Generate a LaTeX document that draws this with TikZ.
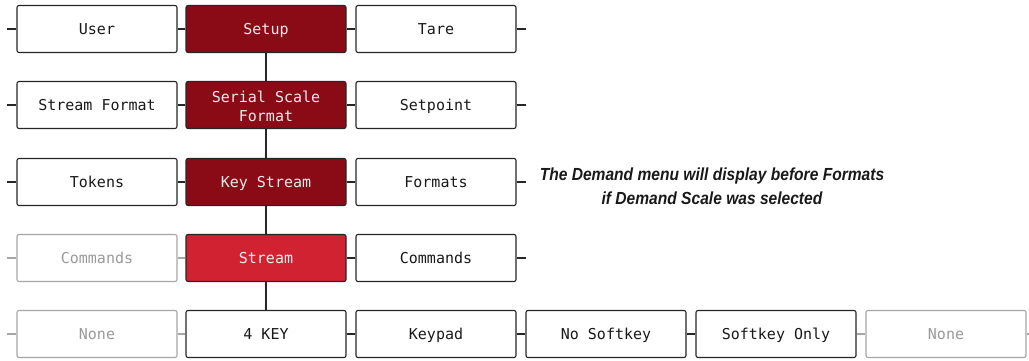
\documentclass[tikz,border=0pt]{standalone}
\usepackage{fontspec}
\setmainfont{Liberation Sans}
\setmonofont{DejaVu Sans Mono}
\definecolor{darkred}{HTML}{8A0A16}
\definecolor{brightred}{HTML}{D12232}
\definecolor{grayline}{HTML}{A6A6A6}
\definecolor{graytext}{HTML}{9A9A9A}
\begin{document}
\begin{tikzpicture}[x=1pt,y=-1pt,
  menubox/.style={draw=black!85,line width=1.1pt,rounded corners=2pt,minimum width=160pt,minimum height=47pt,inner sep=0pt,fill=white,font=\ttfamily\fontsize{15}{19}\selectfont,align=center,text=black!90,text height=12.5pt,text depth=1.5pt},
  sel/.style={menubox,fill=darkred,text=white!92!black},
  cur/.style={menubox,fill=brightred,text=white!95!black},
  dim/.style={menubox,draw=grayline,text=graytext},
  link/.style={draw=black!85,line width=1.1pt},
  dimlink/.style={draw=grayline,line width=1.1pt}]
\useasboundingbox (0,0) rectangle (1029,360);
% row 1
\node[menubox] (user) at (97,29) {User};
\node[sel] (setup) at (266,29) {Setup};
\node[menubox] (tare) at (436,29) {Tare};
% row 2
\node[menubox] (sfmt) at (97,105) {Stream Format};
\node[sel,text height=25pt,text depth=12pt] (ssf) at (266,105) {\begin{tabular}{@{}c@{}}Serial Scale\\Format\end{tabular}};
\node[menubox] (setp) at (436,105) {Setpoint};
% row 3
\node[menubox] (tok) at (97,182) {Tokens};
\node[sel] (ks) at (266,182) {Key Stream};
\node[menubox] (fmts) at (436,182) {Formats};
% row 4
\node[dim] (cmd1) at (97,258) {Commands};
\node[cur] (str) at (266,258) {Stream};
\node[menubox] (cmd2) at (436,258) {Commands};
% row 5
\node[dim] (none1) at (97,334) {None};
\node[menubox] (key4) at (266,334) {4 KEY};
\node[menubox] (kpad) at (436,334) {Keypad};
\node[menubox] (nosk) at (606,334) {No Softkey};
\node[menubox] (skonly) at (776,334) {Softkey Only};
\node[dim] (none2) at (946,334) {None};
% stub coordinates
\foreach \n/\y in {a/29,b/105,c/182,d/258,e/334}{
  \coordinate (l\n) at (7,\y);
  \coordinate (r\n) at (526,\y);
}
\coordinate (rend) at (1029,334);
% row connectors
\draw[link] (la) -- (user.west) (user.east) -- (setup.west) (setup.east) -- (tare.west) (tare.east) -- (ra);
\draw[link] (lb) -- (sfmt.west) (sfmt.east) -- (ssf.west) (ssf.east) -- (setp.west) (setp.east) -- (rb);
\draw[link] (lc) -- (tok.west) (tok.east) -- (ks.west) (ks.east) -- (fmts.west) (fmts.east) -- (rc);
\draw[dimlink] (ld) -- (cmd1.west) (cmd1.east) -- (str.west);
\draw[link] (str.east) -- (cmd2.west) (cmd2.east) -- (rd);
\draw[dimlink] (le) -- (none1.west) (none1.east) -- (key4.west);
\draw[link] (key4.east) -- (kpad.west) (kpad.east) -- (nosk.west) (nosk.east) -- (skonly.west);
\draw[dimlink] (skonly.east) -- (none2.west) (none2.east) -- (rend);
% vertical
\draw[link] (setup.south) -- (ssf.north) (ssf.south) -- (ks.north) (ks.south) -- (str.north) (str.south) -- (key4.north);
% note
\node[font=\bfseries\itshape\fontsize{17.5}{24}\selectfont,align=center,text=black!90] (note) at (712,186)
  {\scalebox{0.89}[1]{The Demand menu will display before Formats}\\\scalebox{0.89}[1]{if Demand Scale was selected}};
\end{tikzpicture}
\end{document}
